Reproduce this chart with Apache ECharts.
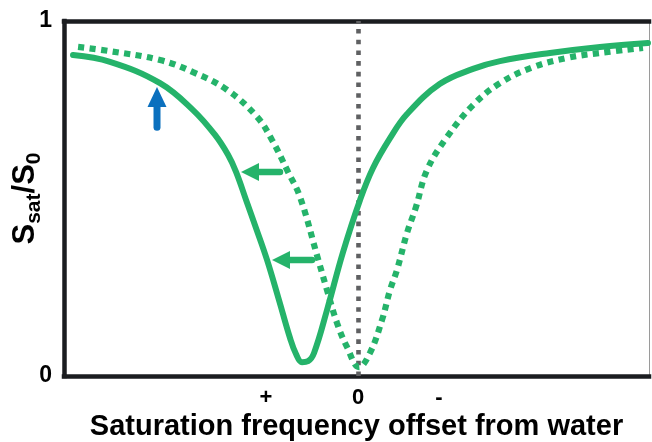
<!DOCTYPE html>
<html>
<head>
<meta charset="utf-8">
<script src="https://cdn.jsdelivr.net/npm/echarts@6/dist/echarts.min.js"></script>
<style>html,body{margin:0;padding:0;background:#fff}#c{width:652px;height:442px}</style>
</head>
<body>
<div id="c"></div>
<script>
// x: frequency offset in arbitrary units (0 = water), y: Ssat/S0
var solidCurve = [
  [-3.098,0.904],[-2.696,0.885],[-2.152,0.825],[-1.793,0.749],[-1.554,0.679],
  [-1.413,0.623],[-1.326,0.575],[-1.217,0.496],[-1.109,0.417],[-0.989,0.327],
  [-0.859,0.214],[-0.739,0.107],[-0.674,0.062],[-0.609,0.039],[-0.543,0.042],
  [-0.478,0.065],[-0.337,0.186],[-0.163,0.349],[0.022,0.496],[0.163,0.586],
  [0.348,0.670],[0.533,0.738],[0.891,0.823],[1.250,0.865],[1.543,0.887],
  [2.087,0.910],[2.630,0.927],[3.152,0.938]
];
var dottedCurve = [
  [-3.043,0.927],[-2.696,0.915],[-2.152,0.890],[-1.793,0.856],[-1.424,0.806],
  [-1.098,0.730],[-0.935,0.665],[-0.761,0.575],[-0.630,0.504],[-0.435,0.330],
  [-0.337,0.242],[-0.228,0.149],[-0.120,0.082],[0.011,0.025],[0.130,0.065],
  [0.261,0.158],[0.348,0.242],[0.424,0.299],[0.533,0.403],[0.630,0.476],
  [0.750,0.580],[0.967,0.673],[1.250,0.763],[1.543,0.825],[1.902,0.870],
  [2.272,0.896],[2.630,0.910],[3.098,0.924]
];
var xTickValues = [-1, 0, 0.88];
var xTickLabels = ['+', '0', '-'];
var yTickValues = [0, 1];
var waterLine = [0];
// vertical arrow: [x, yTail, yTip]
var blueArrow = [[-2.185, 0.701, 0.814]];
// horizontal arrows: [xTail, xTip, y]
var greenArrows = [[-0.848, -1.272, 0.5746], [-0.50, -0.935, 0.3268]];

var GREEN = '#25b36a';
var FONT = '"Liberation Sans", Arial, sans-serif';

var chart = echarts.init(document.getElementById('c'), null, {renderer: 'canvas'});

function arrowShape(tail, tip, headLen, headHalf, shaftW, color) {
  var dx = tip[0] - tail[0], dy = tip[1] - tail[1];
  var len = Math.sqrt(dx*dx + dy*dy);
  var ux = dx/len, uy = dy/len, nx = -uy, ny = ux;
  var bx = tip[0] - ux*headLen, by = tip[1] - uy*headLen;
  return {
    type: 'group',
    children: [
      {type: 'line', shape: {x1: tail[0], y1: tail[1], x2: bx + ux*2, y2: by + uy*2},
       style: {stroke: color, lineWidth: shaftW, lineCap: 'round'}},
      {type: 'polygon', shape: {points: [[tip[0], tip[1]], [bx + nx*headHalf, by + ny*headHalf], [bx - nx*headHalf, by - ny*headHalf]]},
       style: {fill: color}}
    ]
  };
}

var option = {
  animation: false,
  backgroundColor: '#fff',
  grid: {left: 64, right: 3, top: 21, bottom: 66, containLabel: false, outerBoundsMode: 'none'},
  xAxis: [{
    type: 'value', min: -3.196, max: 3.163, position: 'bottom',
    axisLine: {show: true, onZero: false, lineStyle: {color: '#1b1d20', width: 4.5, cap: 'square'}},
    axisTick: {show: false},
    splitLine: {show: false},
    axisLabel: {
      show: true, customValues: xTickValues, margin: 11,
      fontSize: 22, fontWeight: 'bold', color: '#000', fontFamily: FONT,
      formatter: function (v) {
        for (var i = 0; i < xTickValues.length; i++) { if (Math.abs(v - xTickValues[i]) < 1e-6) return xTickLabels[i]; }
        return '';
      }
    },
    name: 'Saturation frequency offset from water',
    nameLocation: 'middle', nameGap: 36, nameMoveOverlap: false,
    nameTextStyle: {fontSize: 29, fontWeight: 'bold', color: '#000', fontFamily: FONT}
  }, {
    type: 'value', min: -3.196, max: 3.163, position: 'top',
    axisLine: {show: true, onZero: false, lineStyle: {color: '#1b1d20', width: 4.5, cap: 'square'}},
    axisTick: {show: false}, axisLabel: {show: false}, splitLine: {show: false}
  }],
  yAxis: [{
    type: 'value', min: 0, max: 1, position: 'left',
    axisLine: {show: true, onZero: false, lineStyle: {color: '#1b1d20', width: 4.5, cap: 'square'}},
    axisTick: {show: false}, splitLine: {show: false},
    axisLabel: {show: true, customValues: yTickValues, margin: 12, fontSize: 23, fontWeight: 'bold', color: '#000', fontFamily: FONT},
    name: '{b|S}{s|sat}{b|/S}{s|0}',
    nameLocation: 'middle', nameGap: 19, nameRotate: 90, nameMoveOverlap: false,
    nameTextStyle: {
      fontFamily: FONT, color: '#000',
      rich: {
        b: {fontSize: 31, fontWeight: 'bold', fontFamily: FONT, color: '#000', lineHeight: 36, verticalAlign: 'bottom', padding: [0,0,4,0]},
        s: {fontSize: 21, fontWeight: 'bold', fontFamily: FONT, color: '#000', lineHeight: 36, verticalAlign: 'bottom', padding: [0,0,0,0]}
      }
    }
  }, {
    type: 'value', min: 0, max: 1, position: 'right',
    axisLine: {show: true, onZero: false, lineStyle: {color: '#9a9a9a', width: 1}},
    axisTick: {show: false}, axisLabel: {show: false}, splitLine: {show: false}
  }],
  series: [{
    type: 'line', name: 'shifted', data: solidCurve, smooth: 0.4, symbol: 'none',
    lineStyle: {color: GREEN, width: 6, cap: 'round'},
    z: 3,
    markLine: {
      silent: true, symbol: 'none', label: {show: false},
      lineStyle: {color: '#5f6062', width: 4.6, type: [4.6, 6.1], cap: 'butt'},
      data: waterLine.map(function (v) { return {xAxis: v}; }),
      z: 2
    }
  }, {
    type: 'line', name: 'reference', data: dottedCurve, smooth: 0.4, symbol: 'none',
    lineStyle: {color: GREEN, width: 6.2, type: [6.2, 5.4], cap: 'butt'},
    z: 3
  }, {
    type: 'custom', name: 'blueArrow', data: blueArrow, z: 5,
    renderItem: function (params, api) {
      var tail = api.coord([api.value(0), api.value(1)]);
      var tip = api.coord([api.value(0), api.value(2)]);
      return arrowShape(tail, tip, 20, 9.5, 7, '#0b70be');
    }
  }, {
    type: 'custom', name: 'greenArrows', data: greenArrows, z: 5,
    renderItem: function (params, api) {
      var tail = api.coord([api.value(0), api.value(2)]);
      var tip = api.coord([api.value(1), api.value(2)]);
      return arrowShape(tail, tip, 18, 9, 6.5, GREEN);
    }
  }]
};
chart.setOption(option);
</script>
</body>
</html>
